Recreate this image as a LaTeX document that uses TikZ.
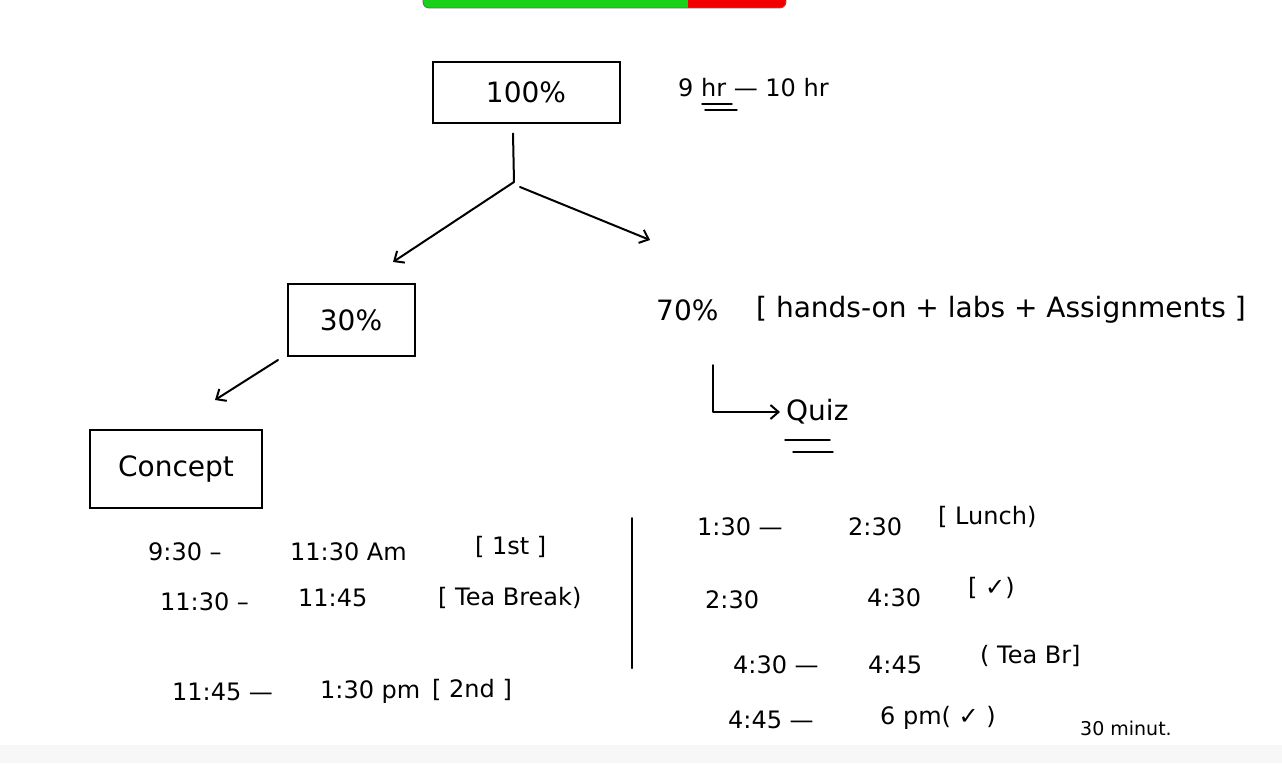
\documentclass[tikz,border=0pt]{standalone}
\usepackage{fontspec}
\setmainfont{DejaVu Sans}
\usetikzlibrary{arrows.meta}
\tikzset{
  hw/.style={font=\fontsize{24}{26}\selectfont, inner sep=0pt, anchor=west},
  hwbig/.style={font=\fontsize{28}{30}\selectfont, inner sep=0pt, anchor=west},
  hwsmall/.style={font=\fontsize{19}{21}\selectfont, inner sep=0pt, anchor=west},
  pbox/.style={draw, line width=2pt, inner sep=0pt, font=\fontsize{28}{30}\selectfont},
  pen/.style={line width=2pt, line cap=round, line join=round},
  pentip/.style={pen, -{Straight Barb[length=8pt, width=14pt]}}
}
\begin{document}
\begin{tikzpicture}[x=1pt, y=-1pt]
\useasboundingbox (0,0) rectangle (1282,763);
% screen-sharing banner and bottom band
\begin{scope}
\clip[rounded corners=6pt] (423,-12) rectangle (786,8);
\fill[green!80!black!90!white] (423,-12) rectangle (688,8);
\fill[red!95!black] (688,-12) rectangle (786,8);
\end{scope}
\draw[black!60, line width=0.8pt, rounded corners=6pt] (423,-12) rectangle (786,8);
\fill[black!3] (0,745) rectangle (1282,763);
% boxes
\node[pbox, minimum width=187pt, minimum height=61pt] (b100) at (526,92) {100\%};
\node[pbox, minimum width=127pt, minimum height=72pt] (b30) at (351,320) {30\%};
\node[pbox, minimum width=172pt, minimum height=78pt] (bcon) at (176,469) {Concept};
% hours note
\node[hw] (hrs) at (678,88) {9 hr — 10 hr};
\draw[pen, line width=1.4pt] (702,104) -- (732,104);
\draw[pen, line width=1.4pt] (705,110) -- (737,110);
% tree connectors
\coordinate (fork) at (514,182);
\coordinate (lt) at (393,262);
\coordinate (rt) at (650,240);
\draw[pen] (b100.south) ++(-13,10) -- (fork);
\draw[pentip] (fork) -- (lt);
\draw[pentip] (fork) ++(6,5) -- (rt);
\coordinate (c30a) at (278,360);
\coordinate (c30b) at (215,400);
\draw[pentip] (c30a) -- (c30b);
% 70% branch
\node[hwbig] (p70) at (656,310) {70\%};
\node[hwbig] (hands) at (756,310) {[ hands-on + labs + Assignments ]};
\coordinate (qa) at (713,365);
\node[hwbig] (quiz) at (786,412) {Quiz};
\draw[pentip] (qa) |- ([xshift=-6pt]quiz.west);
\draw[pen, line width=1.4pt] (785,440) -- (830,440);
\draw[pen, line width=1.4pt] (793,452) -- (833,452);
% left schedule
\node[hw] (l1a) at (148,552) {9:30 –};
\node[hw] (l1b) at (290,552) {11:30 Am};
\node[hw] (l1c) at (475,547) {[ 1st ]};
\node[hw] (l2a) at (160,602) {11:30 –};
\node[hw] (l2b) at (298,598) {11:45};
\node[hw] (l2c) at (438,598) {[ Tea Break)};
\node[hw] (l3a) at (172,692) {11:45 —};
\node[hw] (l3b) at (320,692) {1:30 pm};
\node[hw] (l3c) at (432,690) {[ 2nd ]};
% divider
\coordinate (dv1) at (632,518);
\coordinate (dv2) at (632,668);
\draw[pen] (dv1) -- (dv2);
% right schedule
\node[hw] (r1a) at (697,527) {1:30 —};
\node[hw] (r1b) at (848,527) {2:30};
\node[hw] (r1c) at (938,517) {[ Lunch)};
\node[hw] (r2a) at (705,600) {2:30};
\node[hw] (r2b) at (867,598) {4:30};
\node[hw] (r2c) at (968,588) {[ ✓)};
\node[hw] (r3a) at (733,665) {4:30 —};
\node[hw] (r3b) at (868,665) {4:45};
\node[hw] (r3c) at (980,656) {( Tea Br]};
\node[hw] (r4a) at (728,720) {4:45 —};
\node[hw] (r4b) at (880,718) {6 pm( ✓ )};
\node[hwsmall] (mins) at (1080,728) {30 minut.};
\end{tikzpicture}
\end{document}
